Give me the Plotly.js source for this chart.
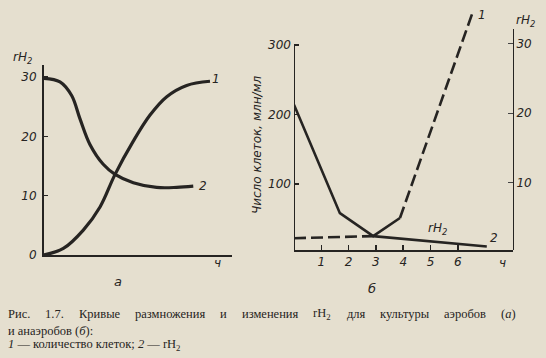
<!DOCTYPE html>
<html><head><meta charset="utf-8">
<script src="https://cdn.plot.ly/plotly-3.0.1.min.js"></script>
<style>html,body{margin:0;padding:0;background:#e5dfcf}</style>
</head><body><div id="chart" style="width:546px;height:358px"></div>
<script>
// ---- Panel a (aerobes) ----
const aTimeCells = [0, 1.03, 2.09, 2.98, 3.78, 4.75, 5.64, 6.53, 7.59, 8.83];
const aCells     = [0, 1.1, 4.2, 8.1, 13.6, 19.2, 23.6, 26.7, 28.6, 29.3];
const aTimeRH    = [0, 0.85, 1.47, 1.91, 2.45, 3.15, 3.78, 4.75, 5.99, 7.06, 7.94];
const aRH        = [29.8, 29.2, 26.9, 23, 18.6, 15.3, 13.6, 12.2, 11.4, 11.4, 11.6];
const aYTicks    = [0, 10, 20, 30];

// ---- Panel b (anaerobes) ----
const bCellsSolidT = [0, 1.68, 2.90, 3.88];
const bCellsSolid  = [214, 58, 25, 51];
const bCellsDashT  = [3.88, 6.57];
const bCellsDash   = [51, 350];
const bRHDashT     = [0, 2.90];
const bRHDash      = [2.0, 2.3];
const bRHSolidT    = [2.90, 7.06];
const bRHSolid     = [2.3, 0.8];
const bXTicks      = [1, 2, 3, 4, 5, 6];
const bLeftTicks   = [100, 200, 300];
const bRightTicks  = [10, 20, 30];

// caption words (line 1 is justified in the book)
const capLine1 = ['Рис.', '1.7.', 'Кривые', 'размножения', 'и', 'изменения', 'rH<sub>2</sub>', 'для', 'культуры', 'аэробов', '(<i>а</i>)'];
const capLine2 = 'и анаэробов (<i>б</i>):';
const capLine3 = '<i>1</i> — количество клеток; <i>2</i> — rH<sub>2</sub>';

const W = 546, H = 358;
const INK = '#262422';
const BG = '#e5dfcf';
const SANS = 'Liberation Sans Narrow, DejaVu Sans, sans-serif';
const SERIF = 'Liberation Serif, DejaVu Serif, serif';
const tickFont = {family: SANS, size: 12, color: INK, style: 'italic'};
const P = (x, y) => ({x: x / W, y: 1 - y / H, xref: 'paper', yref: 'paper'});

const traces = [
  {x: aTimeCells, y: aCells, xaxis: 'x', yaxis: 'y', mode: 'lines', line: {color: INK, width: 3.2, shape: 'spline', smoothing: 1}},
  {x: aTimeRH, y: aRH, xaxis: 'x', yaxis: 'y', mode: 'lines', line: {color: INK, width: 3.2, shape: 'spline', smoothing: 1}},
  {x: bCellsSolidT, y: bCellsSolid, xaxis: 'x2', yaxis: 'y2', mode: 'lines', line: {color: INK, width: 2.6}},
  {x: bCellsDashT, y: bCellsDash, xaxis: 'x2', yaxis: 'y2', mode: 'lines', line: {color: INK, width: 2.6, dash: '12px,5px'}},
  {x: bRHDashT, y: bRHDash, xaxis: 'x2', yaxis: 'y3', mode: 'lines', line: {color: INK, width: 2.6, dash: '12px,5px'}},
  {x: bRHSolidT, y: bRHSolid, xaxis: 'x2', yaxis: 'y3', mode: 'lines', line: {color: INK, width: 2.6}}
];

const ann = (x, y, text, size, extra) => Object.assign(P(x, y), {
  text: text, showarrow: false, xanchor: 'center', yanchor: 'middle',
  font: {family: SANS, size: size || 12, color: INK, style: 'italic'}
}, extra || {});
const cap = (x, y, text, size) => Object.assign(P(x, y), {
  text: text, showarrow: false, xanchor: 'left', yanchor: 'middle', align: 'left',
  font: {family: SERIF, size: size, color: INK}
});

// justify caption line 1 between x=6 and x=513 by measuring word widths
const ctx = document.createElement('canvas').getContext('2d');
ctx.font = '12.5px "Liberation Serif"';
const plain = w => w.replace(/<sub>(.*?)<\/sub>/g, '$1').replace(/<[^>]+>/g, '');
const widths = capLine1.map(w => ctx.measureText(plain(w)).width);
const gap = (513 - 6 - widths.reduce((a, b) => a + b, 0)) / (capLine1.length - 1);
const line1X = [];
widths.reduce((x, w) => { line1X.push(x); return x + w + gap; }, 6);

const layout = {
  width: W, height: H, margin: {l: 0, r: 0, t: 0, b: 0},
  paper_bgcolor: BG, plot_bgcolor: 'rgba(0,0,0,0)', showlegend: false,
  xaxis: {domain: [44 / W, 232 / W], range: [0, 10], anchor: 'y', showline: true, linecolor: INK, linewidth: 2,
          showgrid: false, zeroline: false, showticklabels: false, ticks: ''},
  yaxis: {domain: [1 - 255 / H, 1 - 65 / H], range: [0, 32.04], anchor: 'x', showline: true, linecolor: INK, linewidth: 2,
          showgrid: false, zeroline: false, tickvals: aYTicks, ticktext: aYTicks.map(String), ticks: 'inside', ticklen: 4,
          tickwidth: 1.5, tickcolor: INK, tickfont: tickFont, ticklabelstandoff: 3},
  xaxis2: {domain: [294 / W, 513 / W], range: [0, 8.02], anchor: 'y2', showline: true, linecolor: INK, linewidth: 2,
           showgrid: false, zeroline: false, tickvals: bXTicks, ticktext: bXTicks.map(String), ticks: 'inside', ticklen: 5,
           tickwidth: 1.5, tickcolor: INK, tickfont: tickFont},
  yaxis2: {domain: [1 - 250 / H, 1 - 5 / H], range: [5, 357.5], anchor: 'x2', showline: false,
           showgrid: false, zeroline: false, tickvals: bLeftTicks, ticktext: bLeftTicks.map(String), ticks: 'inside', ticklen: 5,
           tickwidth: 1.5, tickcolor: INK, tickfont: tickFont, ticklabelstandoff: 2},
  yaxis3: {domain: [1 - 250 / H, 1 - 29 / H], range: [0.3, 32.1], anchor: 'x2', side: 'right', showline: true, linecolor: INK,
           tickvals: bRightTicks, ticks: 'inside', tickfont: tickFont, showgrid: false, zeroline: false},
  shapes: [
    {type: 'line', xref: 'x2', yref: 'y2', x0: 0, x1: 0, y0: 5, y1: 300, line: {color: INK, width: 2}}
  ],
  annotations: [
    ann(22, 58, 'rH<sub>2</sub>', 12),
    ann(216, 79, '1', 12),
    ann(203, 186, '2', 12),
    ann(217, 263, 'ч', 12),
    ann(118, 281, 'а', 13),
    ann(257, 145, 'Число клеток, млн/мл', 12, {textangle: -90}),
    ann(482, 15, '1', 12),
    ann(494, 238, '2', 12),
    ann(437, 229, 'rH<sub>2</sub>', 12),
    ann(525, 21, 'rH<sub>2</sub>', 12),
    ann(503, 263, 'ч', 12),
    ann(372, 288, 'б', 13)
  ].concat(capLine1.map((w, i) => cap(line1X[i], 314, w, 12.5)))
   .concat([cap(6, 331, capLine2, 12.5), cap(6, 345, capLine3, 12.5)])
};

Plotly.newPlot('chart', traces, layout, {staticPlot: true, displayModeBar: false});
</script></body></html>
